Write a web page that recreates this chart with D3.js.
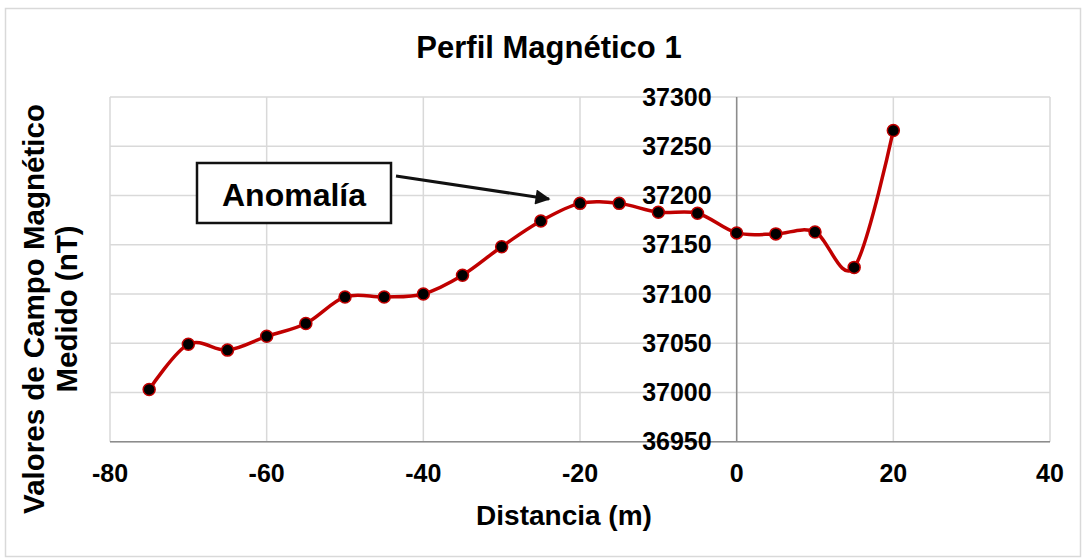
<!DOCTYPE html>
<html>
<head>
<meta charset="utf-8">
<script src="https://cdn.jsdelivr.net/npm/d3@7"></script>
<style>
  body { margin: 0; background: #fff; }
  text { font-family: "Liberation Sans", Arial, sans-serif; font-weight: bold; fill: #000; }
</style>
</head>
<body>
<div id="chart"></div>
<script>
// distancia (m) y campo magnetico medido (nT)
var distancia = [-75, -70, -65, -60, -55, -50, -45, -40, -35, -30, -25, -20, -15, -10, -5, 0, 5, 10, 15, 20];
var campo = [37003, 37049, 37043, 37057, 37070, 37097, 37097, 37100, 37119, 37148, 37174, 37192, 37192, 37183, 37182, 37162, 37161, 37163, 37127, 37266];
var xTicks = [-80, -60, -40, -20, 0, 20, 40];
var yTicks = [36950, 37000, 37050, 37100, 37150, 37200, 37250, 37300];

var W = 1085, H = 560;
var pLeft = 110, pRight = 1050, pTop = 97, pBottom = 441.7;

var svg = d3.select("#chart").append("svg")
  .attr("width", W)
  .attr("height", H);

// marco del grafico
svg.append("rect")
  .attr("x", 5.5).attr("y", 8.5)
  .attr("width", 1075).attr("height", 548)
  .attr("fill", "#fff")
  .attr("stroke", "#d9d9d9")
  .attr("stroke-width", 1.5);

var x = d3.scaleLinear().domain([-80, 40]).range([pLeft, pRight]);
var y = d3.scaleLinear().domain([36950, 37300]).range([pBottom, pTop]);

// cuadricula
svg.append("g").selectAll("line")
  .data(xTicks)
  .enter().append("line")
  .attr("x1", function(d){ return x(d); })
  .attr("x2", function(d){ return x(d); })
  .attr("y1", pTop).attr("y2", pBottom)
  .attr("stroke", "#d9d9d9")
  .attr("stroke-width", 1.5);

svg.append("g").selectAll("line")
  .data(yTicks)
  .enter().append("line")
  .attr("x1", pLeft).attr("x2", pRight)
  .attr("y1", function(d){ return y(d); })
  .attr("y2", function(d){ return y(d); })
  .attr("stroke", "#d9d9d9")
  .attr("stroke-width", 1.5);

// ejes
svg.append("line")
  .attr("x1", x(0)).attr("x2", x(0))
  .attr("y1", pTop).attr("y2", pBottom)
  .attr("stroke", "#8c8c8c")
  .attr("stroke-width", 1.5);

svg.append("line")
  .attr("x1", pLeft).attr("x2", pRight)
  .attr("y1", y(36950)).attr("y2", y(36950))
  .attr("stroke", "#8c8c8c")
  .attr("stroke-width", 1.5);

// etiquetas de los ejes
svg.append("g").selectAll("text")
  .data(yTicks)
  .enter().append("text")
  .attr("x", x(0) - 25)
  .attr("y", function(d){ return y(d); })
  .attr("dy", "0.35em")
  .attr("text-anchor", "end")
  .style("font-size", "25px")
  .text(function(d){ return d; });

svg.append("g").selectAll("text")
  .data(xTicks)
  .enter().append("text")
  .attr("x", function(d){ return x(d); })
  .attr("y", 482)
  .attr("text-anchor", "middle")
  .style("font-size", "25px")
  .text(function(d){ return d; });

// titulos
svg.append("text")
  .attr("x", 549).attr("y", 58)
  .attr("text-anchor", "middle")
  .style("font-size", "31px")
  .text("Perfil Magnético 1");

svg.append("text")
  .attr("x", 564).attr("y", 525)
  .attr("text-anchor", "middle")
  .style("font-size", "28px")
  .text("Distancia (m)");

var yt = svg.append("text")
  .attr("transform", "translate(44,309) rotate(-90)")
  .attr("text-anchor", "middle")
  .style("font-size", "29.5px");
yt.append("tspan").attr("x", 0).attr("y", 0).text("Valores de Campo Magnético");
yt.append("tspan").attr("x", 0).attr("y", 33).text("Medido (nT)");

// serie
var pts = distancia.map(function(d, i){ return {x: d, v: campo[i]}; });

var line = d3.line()
  .x(function(d){ return x(d.x); })
  .y(function(d){ return y(d.v); })
  .curve(d3.curveCatmullRom.alpha(0));

svg.append("path")
  .datum(pts)
  .attr("d", line)
  .attr("fill", "none")
  .attr("stroke", "#c00000")
  .attr("stroke-width", 3.5);

svg.append("g").selectAll("circle")
  .data(pts)
  .enter().append("circle")
  .attr("cx", function(d){ return x(d.x); })
  .attr("cy", function(d){ return y(d.v); })
  .attr("r", 6)
  .attr("fill", "#000")
  .attr("stroke", "#c00000")
  .attr("stroke-width", 1.5);

// anotacion
svg.append("defs").append("marker")
  .attr("id", "flecha")
  .attr("viewBox", "0 0 10 10")
  .attr("refX", 9).attr("refY", 5)
  .attr("markerWidth", 6).attr("markerHeight", 5)
  .attr("markerUnits", "strokeWidth")
  .attr("orient", "auto")
  .append("path")
  .attr("d", "M0,0 L10,5 L0,10 z")
  .attr("fill", "#111");

svg.append("line")
  .attr("x1", 396).attr("y1", 176)
  .attr("x2", 549).attr("y2", 199)
  .attr("stroke", "#111")
  .attr("stroke-width", 3)
  .attr("marker-end", "url(#flecha)");

svg.append("rect")
  .attr("x", 197).attr("y", 163)
  .attr("width", 194).attr("height", 60)
  .attr("fill", "#fff")
  .attr("stroke", "#111")
  .attr("stroke-width", 2.5);

svg.append("text")
  .attr("x", 294).attr("y", 206)
  .attr("text-anchor", "middle")
  .style("font-size", "32px")
  .text("Anomalía");
</script>
</body>
</html>
